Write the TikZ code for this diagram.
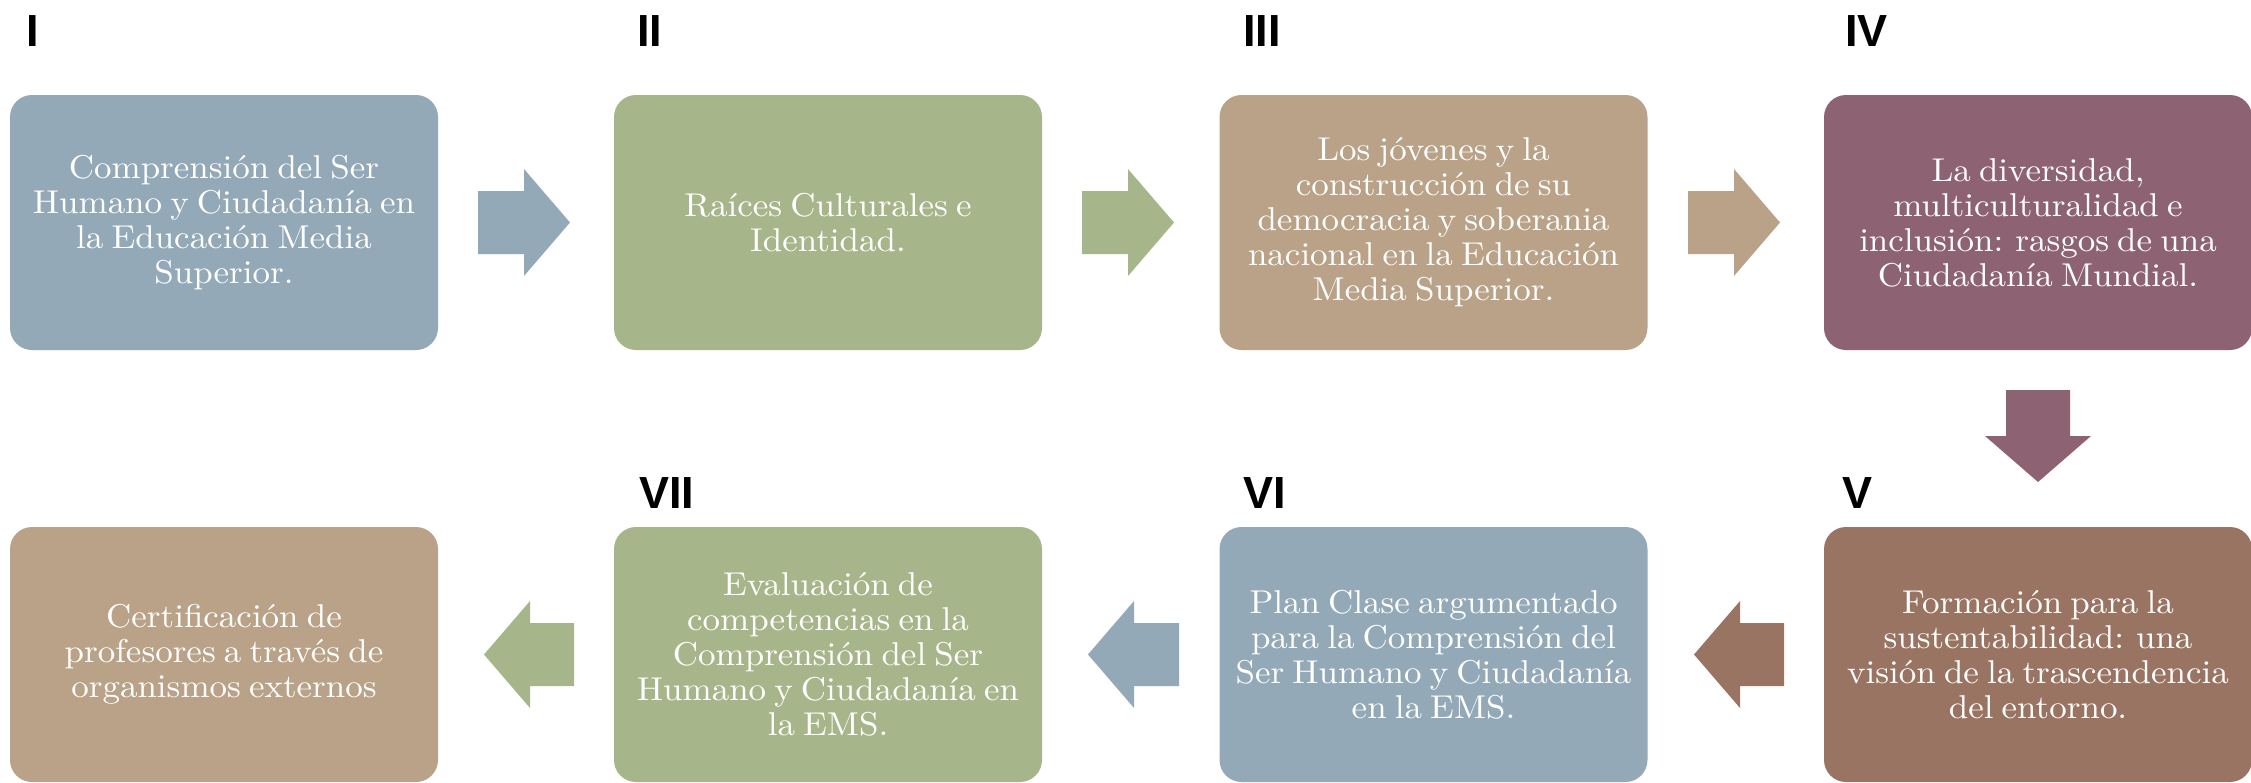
\documentclass[tikz,border=0pt]{standalone}
\usepackage{fontspec}
\newfontfamily\numfont{Liberation Sans}
\newfontfamily\boxfont{lmroman10-regular.otf}[FakeStretch=1.06,WordSpace=0.7]
\definecolor{cblue}{RGB}{147,169,184}
\definecolor{cgreen}{RGB}{167,182,138}
\definecolor{ctan}{RGB}{185,162,135}
\definecolor{cplum}{RGB}{141,98,114}
\definecolor{cbrown}{RGB}{154,116,98}
\newcommand\harrowshape[5]{% color, start x, head base x, tip x, center y
  \fill[#1] ({#2},{#5-31.5}) -- ({#3},{#5-31.5}) -- ({#3},{#5-53.5}) -- ({#4},{#5}) -- ({#3},{#5+53.5}) -- ({#3},{#5+31.5}) -- ({#2},{#5+31.5}) -- cycle;}
\begin{document}
\begin{tikzpicture}[x=1pt,y=-1pt,
  box/.style={rounded corners=22pt, minimum width=428pt, minimum height=255pt, inner sep=0pt,
    text=white, align=center, font=\boxfont\fontsize{33}{35}\selectfont},
  num/.style={anchor=base west, inner sep=0pt, font=\numfont\bfseries\fontsize{45}{45}\selectfont}]
\useasboundingbox (0,0) rectangle (2251,782);
% top row
\node[box, fill=cblue]  (b1) at (224,222.5)   {Comprensión del Ser\\Humano y Ciudadanía en\\la Educación Media\\Superior.};
\node[box, fill=cgreen] (b2) at (828,222.5)   {Raíces Culturales e\\Identidad.};
\node[box, fill=ctan]   (b3) at (1433.5,222.5){Los jóvenes y la\\construcción de su\\democracia y soberania\\nacional en la Educación\\Media Superior.};
\node[box, fill=cplum]  (b4) at (2038,222.5)  {La diversidad,\\multiculturalidad e\\inclusión: rasgos de una\\Ciudadanía Mundial.};
% bottom row
\node[box, fill=cbrown] (b5) at (2038,654.5)  {Formación para la\\sustentabilidad: una\\visión de la trascendencia\\del entorno.};
\node[box, fill=cblue]  (b6) at (1433.5,654.5){Plan Clase argumentado\\para la Comprensión del\\Ser Humano y Ciudadanía\\en la EMS.};
\node[box, fill=cgreen] (b7) at (828,654.5)   {Evaluación de\\competencias en la\\Comprensión del Ser\\Humano y Ciudadanía en\\la EMS.};
\node[box, fill=ctan]   (b8) at (224,654.5)   {Certificación de\\profesores a través de\\organismos externos};
% numerals
\node[num] (n1) at (26,46)   {I};
\node[num] (n2) at (637,46)  {II};
\node[num] (n3) at (1243,46) {III};
\node[num] (n4) at (1845,46) {IV};
\node[num] (n5) at (1842,508){V};
\node[num] (n6) at (1243,508){VI};
\node[num] (n7) at (639,508) {VII};
% block arrows
\harrowshape{cblue}{478}{524}{570}{222.5}
\harrowshape{cgreen}{1082}{1128}{1174}{222.5}
\harrowshape{ctan}{1688}{1734}{1780}{222.5}
\fill[cplum] (2006,390) -- (2070,390) -- (2070,436) -- (2091,436) -- (2038,482) -- (1985,436) -- (2006,436) -- cycle;
\harrowshape{cbrown}{1784}{1740}{1694}{654.5}
\harrowshape{cblue}{1179}{1134}{1088}{654.5}
\harrowshape{cgreen}{574}{530}{484}{654.5}
\end{tikzpicture}
\end{document}
